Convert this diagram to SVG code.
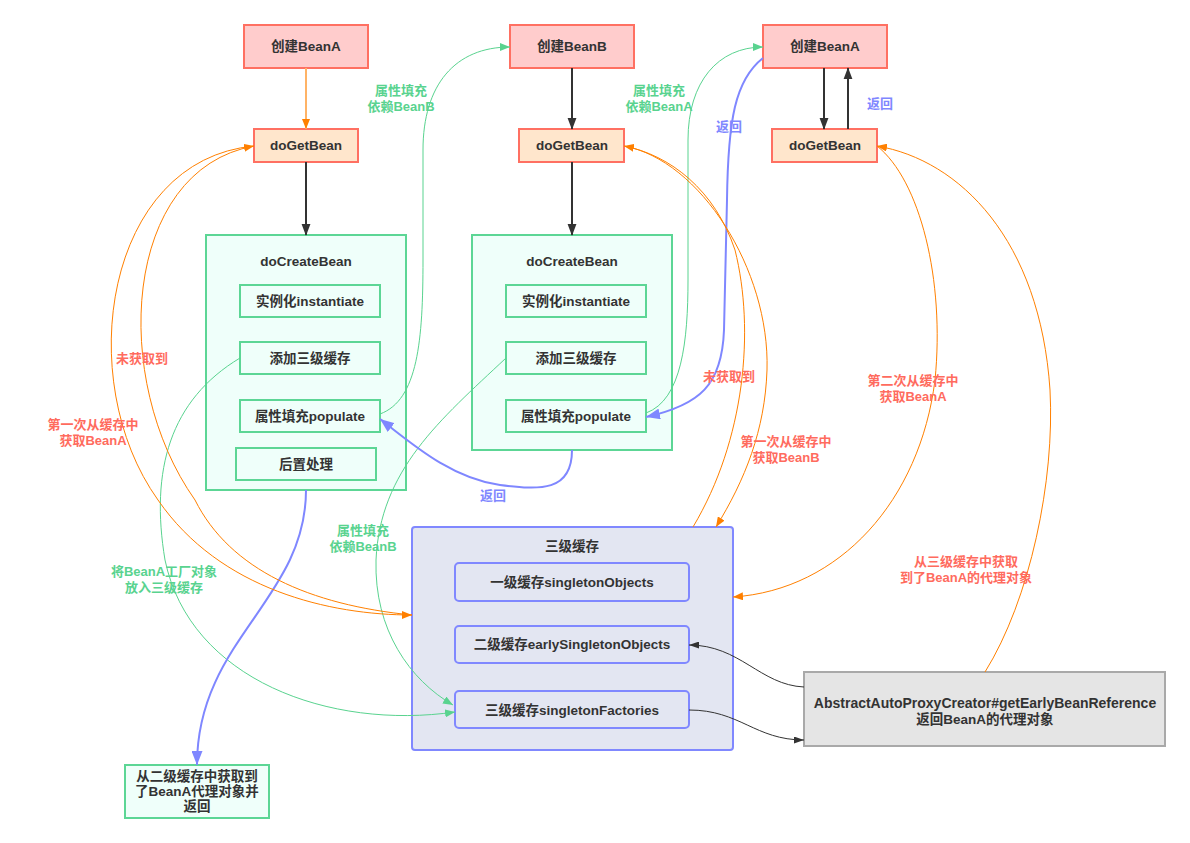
<svg xmlns="http://www.w3.org/2000/svg" width="1190" height="843" viewBox="0 0 1190 843">
<style>
text{font-family:"Liberation Sans","Noto Sans CJK SC",sans-serif;font-size:13px;text-anchor:middle;font-weight:bold}
.nt{fill:#333;font-size:13.5px}
.big{font-size:14px}
.pink{fill:#FFCCCC;stroke:#FF7062;stroke-width:2}
.peach{fill:#FFE6CC;stroke:#FF7062;stroke-width:2}
.grn{fill:#EFFFFA;stroke:#5CD695;stroke-width:2}
.cache{fill:#E3E6F2;stroke:#8088FF;stroke-width:2}
.gray{fill:#E5E5E5;stroke:#A9A9A9;stroke-width:2}
.lr{fill:#FF6B5E}
.lg{fill:#59D38F}
.lb{fill:#7F87FF}
.co{fill:none;stroke:#FF8000;stroke-width:1}
.cg{fill:none;stroke:#59D38F;stroke-width:1}
.cb{fill:none;stroke:#7F87FF;stroke-width:2}
.ck{fill:none;stroke:#333;stroke-width:2}
.cd{fill:none;stroke:#333;stroke-width:1}
</style>
<defs>
<marker id="mK" markerUnits="userSpaceOnUse" markerWidth="12" markerHeight="16" refX="15" refY="6" orient="auto" viewBox="0 0 16 12"><path d="M0,0 L16,6 L0,12 z" fill="#333"/></marker>
<marker id="mO" markerUnits="userSpaceOnUse" markerWidth="10" markerHeight="8" refX="10" refY="4" orient="auto" viewBox="0 0 10 8"><path d="M0,0 L10,4 L0,8 z" fill="#FF8000"/></marker>
<marker id="mG" markerUnits="userSpaceOnUse" markerWidth="10" markerHeight="8" refX="10" refY="4" orient="auto" viewBox="0 0 10 8"><path d="M0,0 L10,4 L0,8 z" fill="#59D38F"/></marker>
<marker id="mB" markerUnits="userSpaceOnUse" markerWidth="14" markerHeight="11" refX="14" refY="5.5" orient="auto" viewBox="0 0 14 11"><path d="M0,0 L14,5.5 L0,11 z" fill="#7F87FF"/></marker>
<marker id="mD" markerUnits="userSpaceOnUse" markerWidth="10" markerHeight="7" refX="10" refY="3.5" orient="auto" viewBox="0 0 10 7"><path d="M0,0 L10,3.5 L0,7 z" fill="#333"/></marker>
</defs>

<g id="createA1"><rect class="pink" x="244" y="25" width="124" height="43"/><text class="nt" x="306" y="51">创建BeanA</text></g>
<g id="getBean1"><rect class="peach" x="254" y="129" width="104" height="33"/><text class="nt" x="306" y="150">doGetBean</text></g>
<g id="createBean1"><rect class="grn" x="206" y="235" width="200" height="255"/><text class="nt" x="306" y="266">doCreateBean</text></g>
<g id="inst1"><rect class="grn" x="240" y="285" width="140" height="32"/><text class="nt" x="310" y="306">实例化instantiate</text></g>
<g id="add1"><rect class="grn" x="240" y="342" width="140" height="32"/><text class="nt" x="310" y="363">添加三级缓存</text></g>
<g id="pop1"><rect class="grn" x="240" y="400" width="140" height="32"/><text class="nt" x="310" y="421">属性填充populate</text></g>
<g id="post1"><rect class="grn" x="236" y="448" width="140" height="32"/><text class="nt" x="306" y="469">后置处理</text></g>

<g id="createB"><rect class="pink" x="510" y="25" width="124" height="43"/><text class="nt" x="572" y="51">创建BeanB</text></g>
<g id="getBean2"><rect class="peach" x="519" y="129" width="105" height="33"/><text class="nt" x="572" y="150">doGetBean</text></g>
<g id="createBean2"><rect class="grn" x="472" y="235" width="200" height="215"/><text class="nt" x="572" y="266">doCreateBean</text></g>
<g id="inst2"><rect class="grn" x="506" y="285" width="140" height="32"/><text class="nt" x="576" y="306">实例化instantiate</text></g>
<g id="add2"><rect class="grn" x="506" y="342" width="140" height="32"/><text class="nt" x="576" y="363">添加三级缓存</text></g>
<g id="pop2"><rect class="grn" x="506" y="400" width="140" height="32"/><text class="nt" x="576" y="421">属性填充populate</text></g>

<g id="createA2"><rect class="pink" x="763" y="25" width="124" height="43"/><text class="nt" x="825" y="51">创建BeanA</text></g>
<g id="getBean3"><rect class="peach" x="772" y="129" width="105" height="33"/><text class="nt" x="825" y="150">doGetBean</text></g>

<g id="cache"><rect class="cache" x="412" y="527" width="321" height="223" rx="3"/><text class="nt" x="572" y="551">三级缓存</text></g>
<g id="c1"><rect class="cache" x="455" y="563" width="234" height="38" rx="4"/><text class="nt" x="572" y="587">一级缓存singletonObjects</text></g>
<g id="c2"><rect class="cache" x="455" y="626" width="234" height="37" rx="4"/><text class="nt" x="572" y="649">二级缓存earlySingletonObjects</text></g>
<g id="c3"><rect class="cache" x="455" y="691" width="234" height="37" rx="4"/><text class="nt" x="572" y="715">三级缓存singletonFactories</text></g>

<g id="proxy"><rect class="gray" x="804" y="672" width="361" height="74"/><text class="nt big" x="985" y="708">AbstractAutoProxyCreator#getEarlyBeanReference</text><text class="nt" x="985" y="724">返回BeanA的代理对象</text></g>
<g id="result"><rect class="grn" x="125" y="765" width="144" height="53"/><text class="nt" x="197" y="781">从二级缓存中获取到</text><text class="nt" x="197" y="796">了BeanA代理对象并</text><text class="nt" x="197" y="811">返回</text></g>

<g id="connectors">
<path d="M306,68 L306,129" fill="none" stroke="#FFB366" stroke-width="2" marker-end="url(#mO)"/>
<path class="ck" d="M306,162 L306,235" marker-end="url(#mK)"/>
<path class="ck" d="M572,68 L572,129" marker-end="url(#mK)"/>
<path class="ck" d="M572,162 L572,235" marker-end="url(#mK)"/>
<path class="ck" d="M824,68 L824,129" marker-end="url(#mK)"/>
<path class="ck" d="M848,129 L848,68" marker-end="url(#mK)"/>

<path class="cg" d="M380,414 C418,400 423,340 423,260 L423,150 C423,85 455,47 510,47" marker-end="url(#mG)"/>
<path class="cg" d="M646,413 C682,400 688,340 688,280 L688,140 C688,82 718,47 763,47" marker-end="url(#mG)"/>
<path class="cg" d="M240,358 C170,400 150,470 165,560 C190,680 330,730 455,712" marker-end="url(#mG)"/>
<path class="cg" d="M506,358 C440,420 380,470 376,560 C374,630 410,680 453,705" marker-end="url(#mG)"/>

<path class="cb" d="M763,58 C735,80 728,120 727,200 L724,330 C722,385 700,405 646,417" marker-end="url(#mB)"/>
<path class="cb" d="M572,450 C572,492 540,490 500,485 C450,478 410,442 380,419" marker-end="url(#mB)"/>
<path class="cb" d="M306,490 C306,600 197,640 197,765" marker-end="url(#mB)"/>

<path class="co" d="M254,146 C105,160 72,380 158,500 C220,590 330,615 412,615" marker-end="url(#mO)"/>
<path class="co" d="M412,615 C310,605 230,570 195,500 C110,380 122,170 254,146" marker-end="url(#mO)"/>
<path class="co" d="M693,527 C745,440 755,330 735,250 C715,190 670,155 624,146" marker-end="url(#mO)"/>
<path class="co" d="M624,146 C700,160 770,270 767,370 C765,430 745,480 716,527" marker-end="url(#mO)"/>
<path class="co" d="M877,146 C920,180 945,280 935,380 C920,500 840,590 733,597" marker-end="url(#mO)"/>
<path class="co" d="M985,672 C1030,600 1055,480 1050,390 C1040,240 960,160 877,146" marker-end="url(#mO)"/>

<path class="cd" d="M804,687 C760,685 740,645 689,645" marker-end="url(#mD)"/>
<path class="cd" d="M689,710 C740,710 755,740 804,740" marker-end="url(#mD)"/>

<text class="lg" x="401" y="95">属性填充</text><text class="lg" x="401" y="111">依赖BeanB</text>
<text class="lg" x="659" y="95">属性填充</text><text class="lg" x="659" y="111">依赖BeanA</text>
<text class="lb" x="729" y="131">返回</text>
<text class="lb" x="880" y="108">返回</text>
<text class="lb" x="493" y="500">返回</text>
<text class="lr" x="142" y="363">未获取到</text>
<text class="lr" x="93" y="429">第一次从缓存中</text><text class="lr" x="93" y="445">获取BeanA</text>
<text class="lr" x="729" y="381">未获取到</text>
<text class="lr" x="786" y="446">第一次从缓存中</text><text class="lr" x="786" y="462">获取BeanB</text>
<text class="lr" x="913" y="385">第二次从缓存中</text><text class="lr" x="913" y="401">获取BeanA</text>
<text class="lr" x="966" y="566">从三级缓存中获取</text><text class="lr" x="966" y="582">到了BeanA的代理对象</text>
<text class="lg" x="164" y="576">将BeanA工厂对象</text><text class="lg" x="164" y="592">放入三级缓存</text>
<text class="lg" x="363" y="535">属性填充</text><text class="lg" x="363" y="551">依赖BeanB</text>
</g>
</svg>
